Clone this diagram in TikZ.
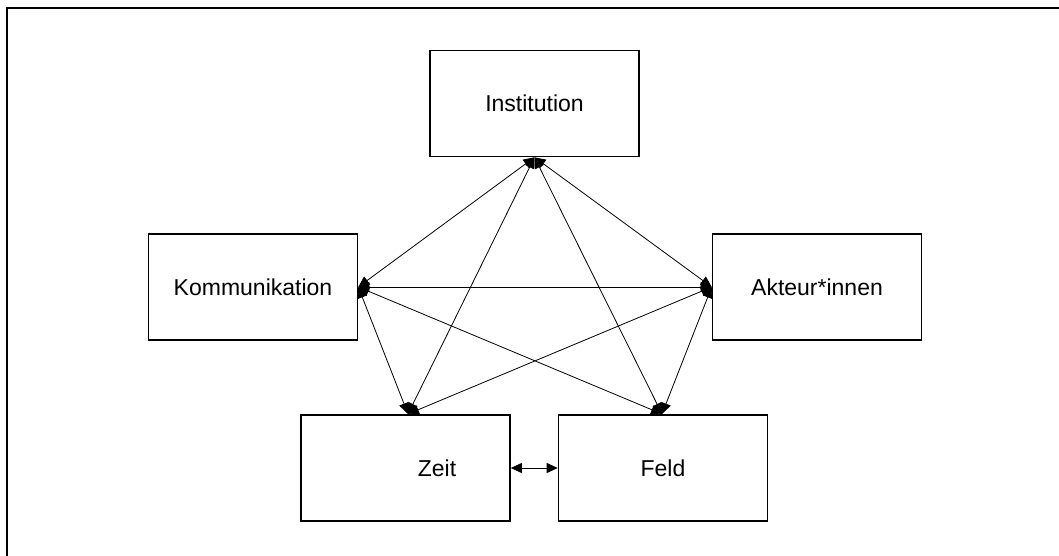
\documentclass[tikz,border=0pt]{standalone}
\usepackage{fontspec}
\setmainfont{Liberation Sans}
\usetikzlibrary{arrows.meta}
\begin{document}
\begin{tikzpicture}[x=1pt,y=-1pt,
  box/.style={draw,line width=1.6pt,minimum width=209pt,minimum height=106pt,inner sep=0pt,font=\fontsize{23}{27}\selectfont},
  lbl/.style={font=\fontsize{23}{27}\selectfont,inner sep=0pt},
  link/.style={line width=0.8pt,{Triangle[length=11pt,width=10pt]}-{Triangle[length=11pt,width=10pt]}}]
\useasboundingbox (0,0) rectangle (1059,556);
\clip (0,0) rectangle (1059,556);
\draw[line width=1.8pt] (7,8) rectangle (1075,575);
\node[box] (inst) at (534.5,103.5) {Institution};
\node[box] (komm) at (253,287) {Kommunikation};
\node[box] (akt) at (817,287) {Akteur*innen};
\node[box] (zeit) at (405.5,468) {};
\node[lbl] (zeitlbl) at (437,468) {Zeit};
\node[box] (feld) at (663,468) {Feld};
\coordinate (zt) at (408,414);
\coordinate (ft) at (662,414);
\draw[link] (inst.south) -- (komm.east);
\draw[link] (inst.south) -- (akt.west);
\draw[link] (inst.south) -- (zt);
\draw[link] (inst.south) -- (ft);
\draw[link] (komm.east) -- (akt.west);
\draw[link] (komm.east) -- (zt);
\draw[link] (komm.east) -- (ft);
\draw[link] (akt.west) -- (zt);
\draw[link] (akt.west) -- (ft);
\draw[link] (zeit.east) -- (feld.west);
\end{tikzpicture}
\end{document}
